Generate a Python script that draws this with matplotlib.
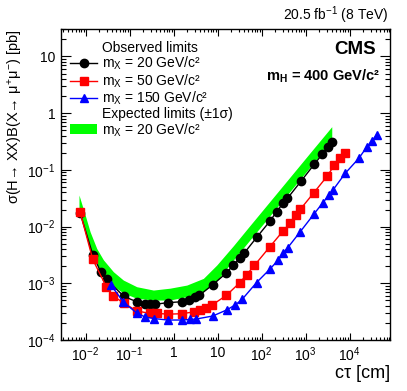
import math
import matplotlib
matplotlib.use("Agg")
import matplotlib.pyplot as plt
import matplotlib.ticker as mticker
from matplotlib.lines import Line2D

plt.rcParams['font.family'] = ['Liberation Sans', 'DejaVu Sans']
plt.rcParams['mathtext.fontset'] = 'custom'
plt.rcParams['mathtext.rm'] = 'Liberation Sans'
plt.rcParams['mathtext.it'] = 'Liberation Sans:italic'
plt.rcParams['mathtext.bf'] = 'Liberation Sans:bold'

# observed limits, m_X = 20 GeV
obs20_ct = [0.0075, 0.0146, 0.0221, 0.030, 0.075, 0.150, 0.219, 0.285, 0.38, 0.74,
            1.53, 2.23, 3.03, 3.86, 7.8, 15.6, 22.9, 32.4, 40, 77.8,
            156, 221, 313, 385, 778, 1578, 2371, 3245, 4043]
obs20_lim = [0.0175, 3.2e-3, 1.6e-3, 1.17e-3, 5.85e-4, 4.68e-4, 4.3e-4, 4.27e-4, 4.27e-4, 4.55e-4,
             4.73e-4, 5.14e-4, 5.66e-4, 6.14e-4, 9.45e-4, 1.5e-3, 2.1e-3, 2.74e-3, 3.38e-3, 6.47e-3,
             0.01256, 0.0183, 0.0264, 0.0313, 0.0624, 0.1256, 0.187, 0.256, 0.31]

# observed limits, m_X = 50 GeV
obs50_ct = [0.0075, 0.0146, 0.0297, 0.0428, 0.073, 0.148, 0.285, 0.415, 0.74, 1.53,
            2.85, 3.9, 5.56, 7.5, 15.8, 31.8, 46, 68.6, 152, 308,
            445, 609, 765, 1545, 3126, 4446, 5929, 7909]
obs50_lim = [0.0183, 2.63e-3, 8.7e-4, 5.97e-4, 4.5e-4, 3.24e-4, 2.96e-4, 2.96e-4, 2.85e-4, 2.91e-4,
             3.12e-4, 3.38e-4, 3.72e-4, 4.14e-4, 6.1e-4, 1.02e-3, 1.42e-3, 2.06e-3, 4.34e-3, 8.36e-3,
             0.01143, 0.0157, 0.0203, 0.0396, 0.078, 0.1197, 0.16, 0.199]

# observed limits, m_X = 150 GeV
obs150_ct = [0.0374, 0.0723, 0.148, 0.225, 0.355, 0.74, 1.53, 2.32, 3.24, 7.8,
             16, 25, 36, 77, 156, 241, 313, 390, 750, 1560,
             2433, 3420, 4220, 7909, 16260, 24600, 32800, 41500]
obs150_lim = [9.44e-4, 4.68e-4, 2.96e-4, 2.55e-4, 2.39e-4, 2.25e-4, 2.25e-4, 2.3e-4, 2.34e-4, 2.65e-4,
              3.38e-4, 4.14e-4, 5.18e-4, 1.03e-3, 1.79e-3, 2.58e-3, 3.47e-3, 4.2e-3, 8.04e-3, 0.0167,
              0.026, 0.0361, 0.0443, 0.0865, 0.16, 0.253, 0.326, 0.42]

# expected limits +-1 sigma, m_X = 20 GeV
exp_ct = [0.0071, 0.0098, 0.0127, 0.018, 0.0254, 0.0429, 0.0723, 0.146, 0.348, 0.83,
          2.0, 4.76, 9.6, 22.9, 54.8, 263, 1265, 3940]
exp_hi = [0.036, 0.016, 8.1e-3, 4.1e-3, 2.6e-3, 1.6e-3, 1.14e-3, 8.7e-4, 7.6e-4, 8.2e-4,
          9.3e-4, 1.22e-3, 2.1e-3, 4.6e-3, 0.0105, 0.0457, 0.2, 0.578]
exp_lo = [0.0204, 8.0e-3, 3.6e-3, 2.2e-3, 1.4e-3, 8.95e-4, 6.75e-4, 5.43e-4, 5.07e-4, 5.07e-4,
          5.81e-4, 7.11e-4, 1.1e-3, 2.58e-3, 5.85e-3, 0.0255, 0.112, 0.324]

# labelled decades on each axis
x_decades = [1e-2, 1e-1, 1, 10, 1e2, 1e3, 1e4]
y_decades = [1e-4, 1e-3, 1e-2, 1e-1, 1, 10]

W, H = 407, 391
fig = plt.figure(figsize=(W / 100, H / 100), dpi=100)
ax = fig.add_axes([61 / W, 1 - 340 / H, 329 / W, 311 / H])

band = ax.fill_between(exp_ct, exp_lo, exp_hi, color='#00ff00', lw=0)
l20, = ax.plot(obs20_ct, obs20_lim, '-o', color='black', lw=1, ms=6)
l50, = ax.plot(obs50_ct, obs50_lim, '-s', color='#ff0000', lw=1, ms=5.5)
l150, = ax.plot(obs150_ct, obs150_lim, '-^', color='#0000ff', lw=1, ms=6)

ax.set_xscale('log')
ax.set_yscale('log')
ax.set_xlim(0.00277, 83000)
ax.set_ylim(1e-4, 30.5)


def fmt(v, pos):
    e = int(round(math.log10(v)))
    if e == 0:
        return '1'
    if e == 1:
        return '10'
    return r'$10^{%d}$' % e


for axis, dec in ((ax.xaxis, x_decades), (ax.yaxis, y_decades)):
    axis.set_major_locator(mticker.FixedLocator(dec))
    axis.set_minor_locator(mticker.LogLocator(base=10, subs=range(2, 10), numticks=20))
    axis.set_major_formatter(mticker.FuncFormatter(fmt))
    axis.set_minor_formatter(mticker.NullFormatter())

ax.tick_params(which='both', direction='in', top=True, right=True, labelsize=10, width=0.8)
ax.tick_params(axis='x', which='major', length=5, pad=4)
ax.tick_params(axis='x', which='minor', length=2.5)
ax.tick_params(axis='y', which='major', length=7, pad=4)
ax.tick_params(axis='y', which='minor', length=3.5)
for s in ax.spines.values():
    s.set_linewidth(1.0)

fig.text(390 / W, 1 - 373 / H, 'cτ [cm]', ha='right', va='center', fontsize=13)
fig.text(16 / W, 1 - 29 / H, 'σ(H→ XX)B(X→ μ$^{+}$μ$^{-}$) [pb]',
         rotation=90, ha='center', va='top', fontsize=10.5)
fig.text(388 / W, 1 - 15 / H, '20.5 fb$^{-1}$ (8 TeV)', ha='right', va='center', fontsize=10)
fig.text(376 / W, 1 - 50 / H, 'CMS', ha='right', va='center', fontsize=13.5, fontweight='bold')
fig.text(380 / W, 1 - 76 / H, r'$\mathbf{m_{H}}$ = 400 GeV/c²', ha='right', va='center',
         fontsize=10.5, fontweight='bold')

blank = Line2D([], [], linestyle='none')
handles = [blank, l20, l50, l150, blank, band]
labels = ['Observed limits',
          r'm$_{\rm X}$ = 20 GeV/c²',
          r'm$_{\rm X}$ = 50 GeV/c²',
          r'm$_{\rm X}$ = 150 GeV/c²',
          'Expected limits (±1σ)',
          r'm$_{\rm X}$ = 20 GeV/c²']
ax.legend(handles, labels, loc='upper left', bbox_to_anchor=(70 / W, 1 - 41 / H),
          bbox_transform=fig.transFigure, frameon=False, fontsize=10, borderpad=0,
          borderaxespad=0, handlelength=1.95, handletextpad=0.35, labelspacing=0.0)

fig.savefig('out.png', dpi=100)
